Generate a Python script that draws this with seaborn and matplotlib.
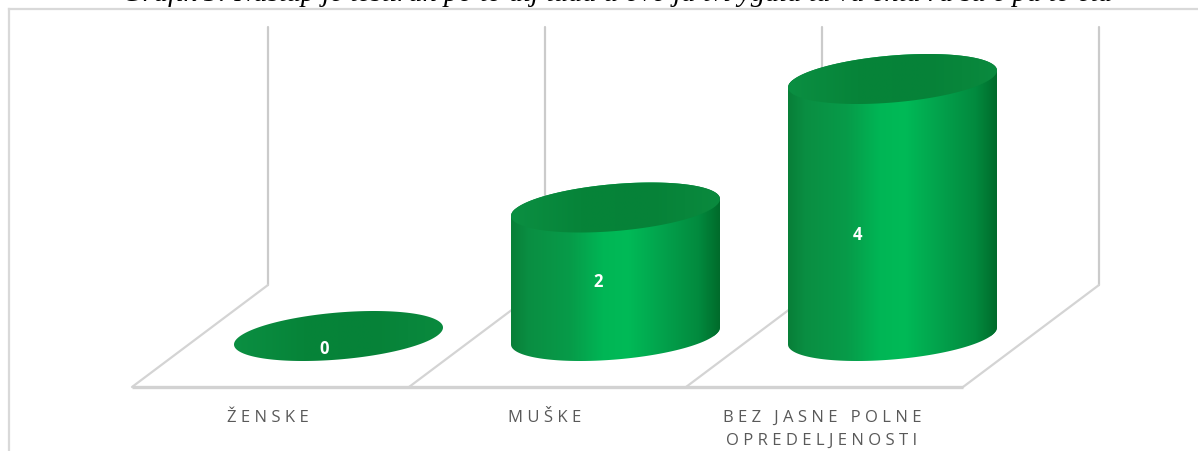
import numpy as np
import pandas as pd
import matplotlib.pyplot as plt
import seaborn as sns
from matplotlib.colors import LinearSegmentedColormap
from matplotlib.patches import Polygon

kategorije = ['ŽENSKE', 'MUŠKE', 'BEZ JASNE POLNE\nOPREDELJENOSTI']
vrednosti = [0, 2, 4]
naslov = 'Grafik 5: Nastup je testiran po to aij tuda u ovo ja tvi ygala ta va enta ra su e pa to eta'

# pomeraj oznaka u odnosu na sredinu stuba (rucno kao u originalu)
oznaka_dx = [-0.052, -0.063, -0.126]
oznaka_dy = [-0.19, -0.14, -0.41]

# odnos piksela i skale
PX_X = 277
PX_Y = 64.25
NULA = 337
SIRINA = 209 / PX_X
DUBINA = 0.794


def razmak(tekst):
    # matplotlib nema letter-spacing, pa ide uzak razmak izmedju slova
    return '\n'.join('\u2009\u200a'.join(red) for red in tekst.split('\n'))


def elipsa(cx, y, t):
    return cx + SIRINA / 2 * np.cos(t), y + 0.132 * np.cos(t) + 0.366 * np.sin(t)


def gradijent(ax, cmap, x0, x1, y0, y1, oblik, z):
    slika = ax.imshow(np.linspace(0, 1, 256).reshape(1, -1), cmap=cmap, aspect='auto',
                      extent=(x0, x1, y0, y1), zorder=z, interpolation='bilinear')
    slika.set_clip_path(Polygon(oblik, transform=ax.transData))


sns.set_style('white')
plt.rcParams['font.family'] = ['Open Sans', 'DejaVu Sans']

fig = plt.figure(figsize=(11.98, 4.52), dpi=100)
ax = fig.add_axes([9 / 1198, 0, 1 - 9 / 1198, 1 - 9.5 / 452])

telo_cmap = LinearSegmentedColormap.from_list('telo', [
    (0, '#087f38'), (0.08, '#0a8e42'), (0.28, '#079b49'), (0.44, '#00b655'), (0.56, '#00ba57'),
    (0.74, '#03a04b'), (0.9, '#028a3e'), (1, '#006b2b')])
kapa_cmap = LinearSegmentedColormap.from_list('kapa', ['#0b8f42', '#068439', '#068238', '#0a8a3e'])

df = pd.DataFrame({'kategorija': kategorije, 'vrednost': vrednosti})
sns.barplot(data=df, x='kategorija', y='vrednost', color='#00a04c', width=SIRINA, ax=ax, zorder=3)

# zidovi i pod
for i in range(len(kategorije) + 1):
    ax.plot([i - 0.2545, i - 0.2545], [DUBINA, 4.81], color='#cbcbcb', lw=1.6, zorder=1)
    ax.plot([i - 0.7455, i - 0.2545], [-DUBINA, DUBINA], color='#d4d4d4', lw=1.6, zorder=1)
ax.plot([-0.7455, len(kategorije) - 0.7455], [-DUBINA, -DUBINA], color='#d2d2d2', lw=2.4, zorder=1,
        solid_capstyle='butt')

t_gore = np.linspace(0, np.pi, 100)
t_dole = np.linspace(np.pi, 2 * np.pi, 100)
t_cela = np.linspace(0, 2 * np.pi, 200)

for i, (stub, v) in enumerate(zip(ax.patches, vrednosti)):
    cx = stub.get_x() + stub.get_width() / 2
    x0, x1 = stub.get_x(), stub.get_x() + stub.get_width()
    if v > 0:
        xd, yd = elipsa(cx, 0, t_dole)
        xg, yg = elipsa(cx, v, t_gore)
        oblik = np.column_stack([np.r_[xd, xg], np.r_[yd, yg]])
        stub.set_clip_path(Polygon(oblik, transform=ax.transData))
        gradijent(ax, telo_cmap, x0, x1, -0.6, v + 0.6, oblik, 4)
    kapa = np.column_stack(elipsa(cx, v, t_cela))
    gradijent(ax, kapa_cmap, x0, x1, v - 0.6, v + 0.6, kapa, 5)
    ax.text(cx + oznaka_dx[i], v / 2 + oznaka_dy[i], str(v), color='white', fontweight='bold',
            fontsize=12, ha='center', va='center', zorder=6)

ax.set_xlim((9 - 338.5) / PX_X, (1198 - 338.5) / PX_X)
ax.set_ylim((NULA - 452) / PX_Y, (NULA - 9.5) / PX_Y)
ax.set_yticks([])
ax.set_xticks(np.arange(len(kategorije)) - 0.255, [razmak(k) for k in kategorije])
ax.tick_params(axis='x', length=0, pad=-30, labelsize=12, labelcolor='#595959')
for lab in ax.get_xticklabels():
    lab.set_linespacing(1.55)
ax.set_xlabel('')
ax.set_ylabel('')

ax.spines['right'].set_visible(False)
ax.spines['bottom'].set_visible(False)
for s in ['left', 'top']:
    ax.spines[s].set_visible(True)
    ax.spines[s].set_color('#d9d9d9')
    ax.spines[s].set_linewidth(1.6)

fig.text(617 / 1198, 1 - 1.2 / 452, naslov, family='Liberation Serif', style='italic', fontsize=20.5,
         ha='center', va='baseline', color='black')

fig.savefig('out.png', dpi=100)
